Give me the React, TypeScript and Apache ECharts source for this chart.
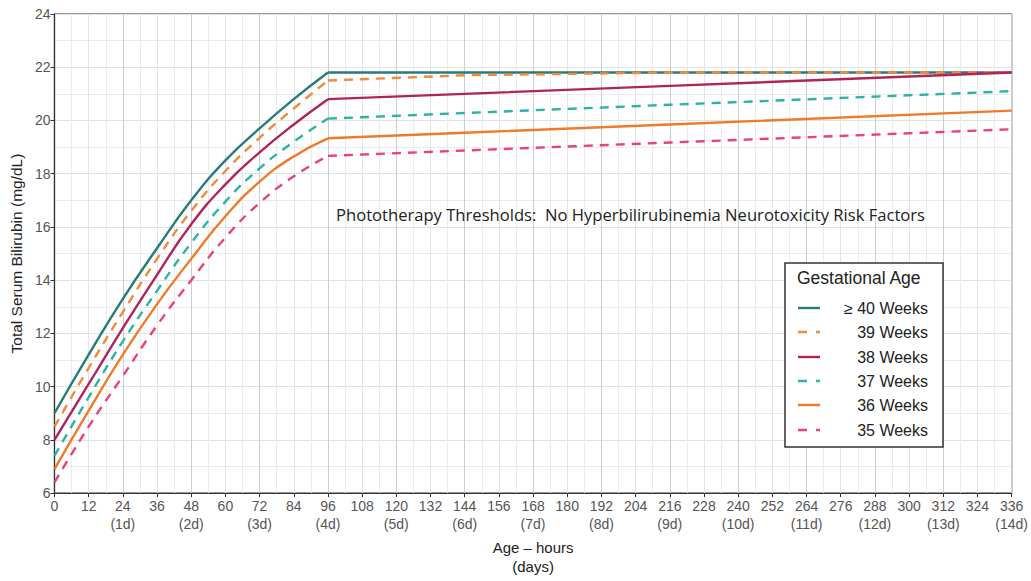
import React, { useEffect, useRef } from "react";
import * as echarts from "echarts";

const hours = [0, 12, 24, 36, 48, 60, 72, 84, 96, 144, 216, 336];
const kneeIndex = 8; // 96 hours
const seriesNames = ["≥ 40 Weeks", "39 Weeks", "38 Weeks", "37 Weeks", "36 Weeks", "35 Weeks"];
const ga40 = [9.0, 11.2, 13.3, 15.2, 17.0, 18.5, 19.7, 20.8, 21.8, 21.8, 21.8, 21.8];
const ga39 = [8.5, 10.7, 12.8, 14.8, 16.6, 18.1, 19.35, 20.45, 21.5, 21.7, 21.8, 21.8];
const ga38 = [8.0, 10.1, 12.2, 14.2, 16.1, 17.6, 18.8, 19.85, 20.8, 21.0, 21.3, 21.8];
const ga37 = [7.4, 9.6, 11.7, 13.6, 15.4, 16.95, 18.2, 19.2, 20.07, 20.28, 20.59, 21.1];
const ga36 = [6.9, 9.1, 11.2, 13.1, 14.8, 16.4, 17.7, 18.65, 19.33, 19.54, 19.85, 20.37];
const ga35 = [6.4, 8.5, 10.4, 12.3, 14.0, 15.6, 16.9, 17.9, 18.67, 18.87, 19.17, 19.67];
const seriesValues = [ga40, ga39, ga38, ga37, ga36, ga35];
const colors = ["#277b78", "#f08a3c", "#b0245a", "#2bb3a6", "#f07a2c", "#e8417b"];
const dashed = [false, true, false, true, false, true];

const FONT = "'Liberation Sans', Arial, sans-serif";

export default function App() {
  const ref = useRef<HTMLDivElement>(null);
  useEffect(() => {
    if (!ref.current) return;
    const chart = echarts.init(ref.current, null, { renderer: "svg" });
    const series: any[] = [];
    seriesValues.forEach((vals, i) => {
      const pts = vals.map((v, j) => [hours[j], v]);
      const lineStyle = {
        color: colors[i],
        width: 2.4,
        type: dashed[i] ? [9, 7] : "solid",
      };
      series.push({
        name: seriesNames[i],
        type: "line",
        data: pts.slice(0, kneeIndex + 1),
        showSymbol: false,
        symbol: "none",
        smooth: 0.5,
        lineStyle,
        z: 3 + i,
      });
      series.push({
        name: seriesNames[i],
        type: "line",
        data: pts.slice(kneeIndex),
        showSymbol: false,
        symbol: "none",
        smooth: false,
        lineStyle,
        z: 3 + i,
      });
    });

    const legendTop = 263;
    const rowY = [308, 332, 357, 381, 405, 430];
    const legendGraphics: any[] = [
      {
        type: "rect",
        shape: { x: 785, y: legendTop, width: 158, height: 184 },
        style: { fill: "#fff", stroke: "#333", lineWidth: 1.5 },
        z: 100,
      },
      {
        type: "text",
        x: 797,
        y: 278,
        style: {
          text: "Gestational Age",
          font: `17.5px ${FONT}`,
          fill: "#222",
          verticalAlign: "middle",
        },
        z: 101,
      },
    ];
    seriesNames.forEach((n, i) => {
      legendGraphics.push({
        type: "line",
        shape: { x1: 798, y1: rowY[i], x2: 820, y2: rowY[i] },
        style: {
          stroke: colors[i],
          lineWidth: 2.4,
          lineDash: dashed[i] ? [9, 9] : null,
        },
        z: 101,
      });
      legendGraphics.push({
        type: "text",
        x: 928,
        y: rowY[i],
        style: {
          text: n,
          font: `16px ${FONT}`,
          fill: "#222",
          align: "right",
          verticalAlign: "middle",
        },
        z: 101,
      });
    });

    chart.setOption({
      animation: false,
      backgroundColor: "#fff",
      grid: {
        left: 54,
        top: 14,
        right: 19,
        bottom: 81,
        show: true,
        borderColor: "#333",
        borderWidth: 1.2,
        backgroundColor: "transparent",
      },
      xAxis: [
        {
          type: "value",
          min: 0,
          max: 336,
          interval: 12,
          name: "Age – hours\n(days)",
          nameLocation: "middle",
          nameGap: 40,
          nameTextStyle: { fontFamily: FONT, fontSize: 15, color: "#222", lineHeight: 19, verticalAlign: "top" },
          axisLine: { show: true, lineStyle: { color: "#333", width: 1.2 } },
          axisTick: { show: true, length: 4, lineStyle: { color: "#333" } },
          axisLabel: {
            fontFamily: FONT,
            fontSize: 14,
            color: "#555",
            margin: 4,
            lineHeight: 18,
            formatter: (v: number) => (v > 0 && v % 24 === 0 ? `${v}\n(${v / 24}d)` : `${v}`),
          },
          splitLine: { show: true, lineStyle: { color: "#e4e4e4", width: 1 } },
          minorTick: { show: false, splitNumber: 2 },
          minorSplitLine: { show: true, lineStyle: { color: "#ebebeb", width: 1 } },
        },
        {
          type: "value",
          min: 0,
          max: 336,
          interval: 24,
          position: "bottom",
          axisLine: { show: false },
          axisTick: { show: false },
          axisLabel: { show: false },
          splitLine: { show: true, lineStyle: { color: "#cdcdcd", width: 1 } },
        },
      ],
      yAxis: {
        type: "value",
        min: 6,
        max: 24,
        interval: 2,
        name: "Total Serum Bilirubin (mg/dL)",
        nameLocation: "middle",
        nameGap: 30,
        nameTextStyle: { fontFamily: FONT, fontSize: 15.5, color: "#222" },
        axisLine: { show: true, lineStyle: { color: "#333", width: 1.2 } },
        axisTick: { show: true, length: 4, lineStyle: { color: "#333" } },
        axisLabel: { fontFamily: FONT, fontSize: 14, color: "#555", margin: 4 },
        splitLine: { show: true, lineStyle: { color: "#e2e2e2", width: 1 } },
        minorTick: { show: false, splitNumber: 2 },
        minorSplitLine: { show: true, lineStyle: { color: "#ebebeb", width: 1 } },
      },
      graphic: [
        {
          type: "text",
          x: 336,
          y: 214,
          style: {
            text: "Phototherapy Thresholds:  No Hyperbilirubinemia Neurotoxicity Risk Factors",
            font: `16.6px 'Open Sans', sans-serif`,
            fill: "#222",
            verticalAlign: "middle",
          },
          z: 50,
        },
        ...legendGraphics,
      ],
      series,
    });
    return () => chart.dispose();
  }, []);
  return <div ref={ref} style={{ width: 1031, height: 581, position: "absolute", left: 0, top: 0 }} />;
}
